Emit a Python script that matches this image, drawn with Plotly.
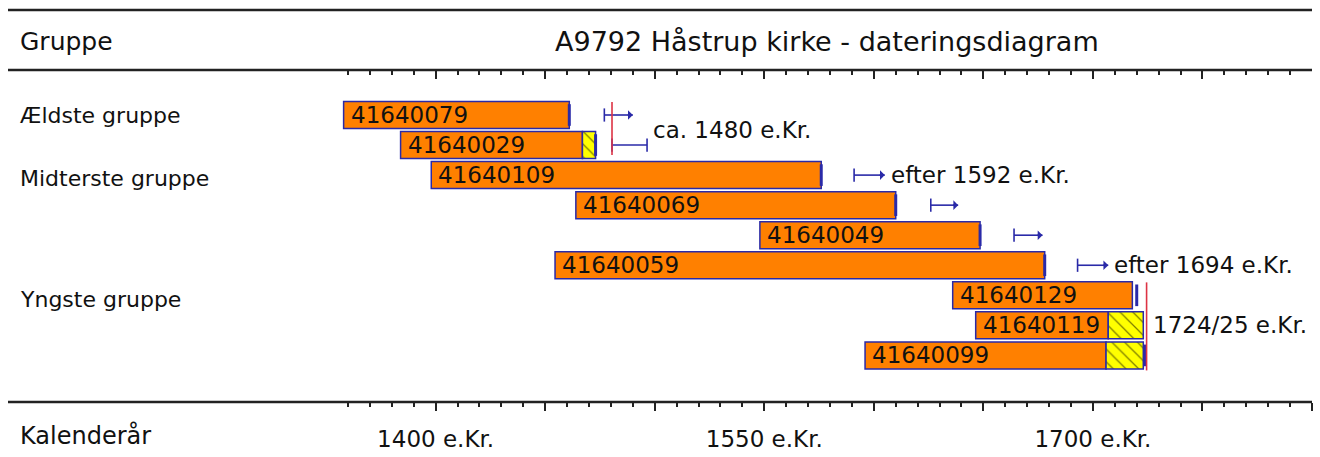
import plotly.graph_objects as go

# ---------------- data ----------------
samples = ["41640079", "41640029", "41640109", "41640069", "41640049",
           "41640059", "41640129", "41640119", "41640099"]
start_year = [1358, 1384, 1398, 1464, 1548, 1454.5, 1636, 1646.5, 1596]
heartwood_end = [1461, 1467, 1576, 1610, 1648.5, 1678, 1718, 1707, 1706]
sap_rows = [1, 7, 8]
sap_end = [1473, 1723, 1723]
end_mark_rows = [0, 1, 2, 3, 4, 5, 6, 8]
end_mark_year = [1461, 1473, 1576, 1610, 1648.5, 1678, 1720, 1724]

arrow_rows = [0, 1, 2, 3, 4, 5]
arrow_from = [1477, 1480.5, 1591, 1626, 1664, 1693]
arrow_to = [1490, 1496.5, 1605, 1638.5, 1677, 1707]
arrow_kind = ["arrow", "bracket", "arrow", "arrow", "arrow", "arrow"]

felling_year = [1480.5, 1724.5]
felling_rows = [(-0.43, 1.33), (5.57, 8.5)]

dating_text = ["ca. 1480 e.Kr.", "efter 1592 e.Kr.", "efter 1694 e.Kr.", "1724/25 e.Kr."]
dating_year = [1496.5, 1605, 1707, 1724.5]
dating_row = [0.5, 2, 5, 7]

groups = ["Ældste gruppe", "Midterste gruppe", "Yngste gruppe"]
group_row = [0, 2.1, 6.15]

tick_labels = {1400: "1400 e.Kr.", 1550: "1550 e.Kr.", 1700: "1700 e.Kr."}
YEAR_MIN, YEAR_MAX = 1360, 1800      # scale (ticked) span
VIEW_MIN = 1355                      # a little room left of the first tick

# ---------------- layout helpers ----------------
W, H = 1320, 457
X0_PX, X1_PX = 348, 1312             # pixel span of YEAR_MIN..YEAR_MAX
ROW0_PX, ROW_STEP = 115, 30.05
PX_PER_YEAR = (X1_PX - X0_PX) / (YEAR_MAX - YEAR_MIN)
DOM0_PX = X0_PX - (YEAR_MIN - VIEW_MIN) * PX_PER_YEAR

def py(p):
    return 1 - p / H

ORANGE = "#FF8000"
BLUE = "#2A2AA8"
RED = "#DD3344"
YELLOW = "#FFFF00"
DARK = "#222222"
TXT = "#111111"
FONT = "DejaVu Sans, Verdana, sans-serif"

rows = list(range(len(samples)))
fig = go.Figure()

# heartwood bars
fig.add_trace(go.Bar(
    y=rows, base=start_year,
    x=[e - s for s, e in zip(start_year, heartwood_end)],
    orientation="h", width=0.9,
    marker=dict(color=ORANGE, line=dict(color=BLUE, width=1.5)),
    hoverinfo="skip", showlegend=False,
))
# sapwood bars (hatched)
fig.add_trace(go.Bar(
    y=sap_rows, base=[heartwood_end[r] for r in sap_rows],
    x=[e - heartwood_end[r] for r, e in zip(sap_rows, sap_end)],
    orientation="h", width=0.9,
    marker=dict(color=YELLOW, line=dict(color=BLUE, width=1.5),
                pattern=dict(shape="\\", fgcolor="#000000", bgcolor=YELLOW,
                             size=9, solidity=0.14)),
    hoverinfo="skip", showlegend=False,
))
# sample labels
for s, x0, r in zip(samples, start_year, rows):
    fig.add_annotation(x=x0, y=r, xref="x", yref="y", text=s, showarrow=False,
                       xanchor="left", yanchor="middle", xshift=5,
                       font=dict(family=FONT, size=23, color=TXT))

# thick end markers
mx, my = [], []
for r, yv in zip(end_mark_rows, end_mark_year):
    mx += [yv, yv, None]
    my += [r - 0.36, r + 0.36, None]
fig.add_trace(go.Scatter(x=mx, y=my, mode="lines",
                         line=dict(color=BLUE, width=3),
                         hoverinfo="skip", showlegend=False))

# felling interval arrows / brackets
ax_, ay_ = [], []
for r, a, b, k in zip(arrow_rows, arrow_from, arrow_to, arrow_kind):
    ax_ += [a, a, None, a, b, None]
    ay_ += [r - 0.22, r + 0.22, None, r, r, None]
    if k == "bracket":
        ax_ += [b, b, None]
        ay_ += [r - 0.22, r + 0.22, None]
fig.add_trace(go.Scatter(x=ax_, y=ay_, mode="lines",
                         line=dict(color=BLUE, width=1.6),
                         hoverinfo="skip", showlegend=False))
for r, a, b, k in zip(arrow_rows, arrow_from, arrow_to, arrow_kind):
    if k == "arrow":
        fig.add_annotation(x=b, y=r, ax=b - 3, ay=r, xref="x", yref="y",
                           axref="x", ayref="y", text="", showarrow=True,
                           arrowhead=1, arrowsize=1, arrowwidth=1.6,
                           arrowcolor=BLUE, standoff=0)

# felling-date red lines (on the top axis, same scale)
rx, ry = [], []
for yv, (r0, r1) in zip(felling_year, felling_rows):
    rx += [yv, yv, None]
    ry += [r0, r1, None]
fig.add_trace(go.Scatter(x=rx, y=ry, mode="lines", xaxis="x2", yaxis="y",
                         line=dict(color=RED, width=1.6),
                         hoverinfo="skip", showlegend=False))

# dating texts
for t, xv, rv in zip(dating_text, dating_year, dating_row):
    fig.add_annotation(x=xv, y=rv, xref="x", yref="y", text=t, showarrow=False,
                       xanchor="left", yanchor="middle", xshift=4,
                       font=dict(family=FONT, size=23, color=TXT))

# group labels
for g, rv in zip(groups, group_row):
    fig.add_annotation(x=18 / W, y=rv, xref="paper", yref="y", text=g,
                       showarrow=False, xanchor="left", yanchor="middle",
                       font=dict(family=FONT, size=22, color=TXT))

# header / footer text
fig.add_annotation(x=18 / W, y=py(42), xref="paper", yref="paper", text="Gruppe",
                   showarrow=False, xanchor="left", yanchor="middle",
                   font=dict(family=FONT, size=25, color=TXT))
fig.add_annotation(x=827 / W, y=py(42), xref="paper", yref="paper",
                   text="A9792 Håstrup kirke - dateringsdiagram",
                   showarrow=False, xanchor="center", yanchor="middle",
                   font=dict(family=FONT, size=27, color=TXT))
fig.add_annotation(x=18 / W, y=py(435), xref="paper", yref="paper", text="Kalenderår",
                   showarrow=False, xanchor="left", yanchor="middle",
                   font=dict(family=FONT, size=24, color=TXT))

# horizontal rules
for p, w in [(10, 2.5), (70, 2.5), (402, 2.5)]:
    fig.add_shape(type="line", xref="paper", yref="paper",
                  x0=8 / W, x1=X1_PX / W, y0=py(p), y1=py(p),
                  line=dict(color=DARK, width=w))

majors = list(range(1400, YEAR_MAX + 1, 50))
minors = [v for v in range(YEAR_MIN, YEAR_MAX + 1, 10) if v not in majors]
domain = [DOM0_PX / W, X1_PX / W]

common = dict(range=[VIEW_MIN, YEAR_MAX], domain=domain, showgrid=False,
              zeroline=False, showline=False, tickmode="array", tickvals=majors,
              ticklen=8, tickwidth=1.5, tickcolor=DARK, fixedrange=True)

fig.update_layout(
    width=W, height=H,
    margin=dict(l=0, r=0, t=0, b=0),
    paper_bgcolor="white", plot_bgcolor="white",
    barmode="overlay", showlegend=False,
    xaxis=dict(**common, anchor="free", position=py(402), side="bottom",
               ticks="outside",
               ticktext=[tick_labels.get(v, "") for v in majors],
               ticklabelstandoff=8,
               tickfont=dict(family=FONT, size=23, color=TXT),
               minor=dict(tickmode="array", tickvals=minors, ticks="outside",
                          ticklen=4, tickwidth=1.5, tickcolor=DARK)),
    xaxis2=dict(**common, overlaying="x", anchor="free", position=py(70),
                side="top", ticks="inside", showticklabels=False,
                minor=dict(tickmode="array", tickvals=minors, ticks="inside",
                           ticklen=4, tickwidth=1.5, tickcolor=DARK)),
    yaxis=dict(range=[(H - ROW0_PX) / ROW_STEP, -ROW0_PX / ROW_STEP],
               domain=[0, 1], visible=False, fixedrange=True),
)

fig.write_html("out.html", config={"displayModeBar": False},
               post_script="document.body.style.margin='0px';"
                           "document.body.style.overflow='hidden';")
